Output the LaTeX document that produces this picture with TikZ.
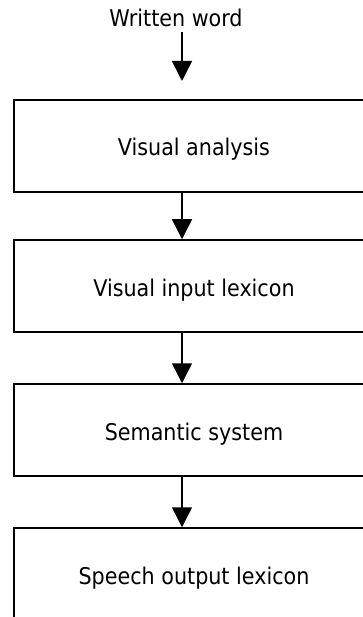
\documentclass[tikz,border=0pt]{standalone}
\usepackage{fontspec}
\setmainfont{DejaVu Sans Condensed}
\usetikzlibrary{arrows.meta}
\begin{document}
\begin{tikzpicture}[x=1pt,y=-1pt,font=\fontsize{23}{27}\selectfont]
      \tikzstyle{stage}=[draw,line width=1.5pt,minimum width=360pt,minimum height=92pt,inner sep=0pt,text height=25pt,text depth=5pt]
      \tikzstyle{flow}=[draw,line width=1.5pt,-{Triangle[width=20pt,length=20pt]}]
      \useasboundingbox (0,0) rectangle (363,617);
      \node (word) at (176,18) {Written word};
      \coordinate (in) at (182,81);
      \node[stage] (va) at (194,146) {Visual analysis};
      \node[stage] (vil) at (194,286) {Visual input lexicon};
      \node[stage] (sem) at (194,430) {Semantic system};
      \node[stage] (sol) at (194,574) {Speech output lexicon};
      \path[flow] ([yshift=-2pt]word.south -| in) -- (in);
      \path[flow] (va.south -| in) -- (vil.north -| in);
      \path[flow] (vil.south -| in) -- (sem.north -| in);
      \path[flow] (sem.south -| in) -- (sol.north -| in);
    \end{tikzpicture}
\end{document}
